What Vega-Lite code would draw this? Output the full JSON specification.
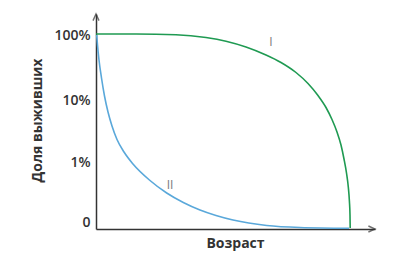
{
  "$schema": "https://vega.github.io/schema/vega-lite/v6.json",
  "width": 279,
  "height": 215,
  "autosize": "none",
  "padding": {"left": 96, "top": 14, "right": 36, "bottom": 28},
  "background": "white",
  "config": {"view": {"stroke": null}, "font": "Open Sans"},
  "datasets": {
    "curves": [
      {"series": "I", "age": 0, "share": 195},
      {"series": "I", "age": 40, "share": 195},
      {"series": "I", "age": 80, "share": 194.3},
      {"series": "I", "age": 110, "share": 191.5},
      {"series": "I", "age": 130, "share": 187.8},
      {"series": "I", "age": 150, "share": 182},
      {"series": "I", "age": 170, "share": 174},
      {"series": "I", "age": 185, "share": 166.5},
      {"series": "I", "age": 200, "share": 156.5},
      {"series": "I", "age": 212, "share": 145.5},
      {"series": "I", "age": 222, "share": 133.5},
      {"series": "I", "age": 230, "share": 121.5},
      {"series": "I", "age": 236, "share": 109.5},
      {"series": "I", "age": 241, "share": 97},
      {"series": "I", "age": 245, "share": 84},
      {"series": "I", "age": 248, "share": 70},
      {"series": "I", "age": 250.5, "share": 56},
      {"series": "I", "age": 252.3, "share": 42},
      {"series": "I", "age": 253.4, "share": 28},
      {"series": "I", "age": 254, "share": 14},
      {"series": "I", "age": 254.2, "share": 1},
      {"series": "II", "age": 0.7, "share": 194},
      {"series": "II", "age": 1.5, "share": 184},
      {"series": "II", "age": 3, "share": 169},
      {"series": "II", "age": 5.5, "share": 151},
      {"series": "II", "age": 8.5, "share": 133},
      {"series": "II", "age": 12, "share": 117},
      {"series": "II", "age": 16, "share": 103},
      {"series": "II", "age": 21, "share": 89.5},
      {"series": "II", "age": 28, "share": 77},
      {"series": "II", "age": 37, "share": 65},
      {"series": "II", "age": 54, "share": 48.5},
      {"series": "II", "age": 70.7, "share": 36},
      {"series": "II", "age": 87.3, "share": 26.5},
      {"series": "II", "age": 104, "share": 19},
      {"series": "II", "age": 120, "share": 13.5},
      {"series": "II", "age": 137, "share": 9},
      {"series": "II", "age": 170.7, "share": 3.5},
      {"series": "II", "age": 204, "share": 1.5},
      {"series": "II", "age": 253, "share": 0.7}
    ],
    "labels": [
      {"name": "I", "age": 175, "share": 187},
      {"name": "II", "age": 74, "share": 44}
    ],
    "arrows": [
      {"dir": "up", "age": 0, "share": 215},
      {"dir": "right", "age": 279, "share": 0}
    ]
  },
  "encoding": {
    "x": {"field": "age", "type": "quantitative",
      "scale": {"domain": [0, 279], "nice": false, "zero": false},
      "axis": {"title": "Возраст", "values": [], "ticks": false, "labels": false, "grid": false,
        "domainColor": "#333333", "domainWidth": 1.5,
        "titleFont": "Open Sans", "titleFontSize": 14, "titleFontWeight": "bold", "titleColor": "#333333",
        "titleX": 139, "titleY": 14, "titleBaseline": "middle", "titleAlign": "center"}},
    "y": {"field": "share", "type": "quantitative",
      "scale": {"domain": [0, 215], "nice": false, "zero": false},
      "axis": {"title": "Доля выживших", "values": [7, 67, 129, 194], "ticks": false, "grid": false,
        "labelExpr": "datum.value == 194 ? '100%' : datum.value == 129 ? '10%' : datum.value == 67 ? '1%' : '0'",
        "labelFont": "Open Sans", "labelFontSize": 14, "labelFontWeight": 600, "labelColor": "#333333", "labelPadding": 6,
        "domainColor": "#333333", "domainWidth": 1.5,
        "titleFont": "Open Sans", "titleFontSize": 14, "titleFontWeight": "bold", "titleColor": "#333333",
        "titleX": -59, "titleY": 106, "titleAngle": -90, "titleBaseline": "middle", "titleAlign": "center"}}
  },
  "layer": [
    {
      "data": {"name": "curves"},
      "mark": {"type": "line", "interpolate": "monotone", "strokeWidth": 1.6},
      "encoding": {
        "color": {"field": "series", "type": "nominal",
          "scale": {"domain": ["I", "II"], "range": ["#1f9a52", "#5aa8da"]}, "legend": null}
      }
    },
    {
      "data": {"name": "labels"},
      "mark": {"type": "text", "font": "Open Sans", "fontSize": 12, "color": "#7a7a7a", "baseline": "middle", "align": "center"},
      "encoding": {"text": {"field": "name", "type": "nominal"}}
    },
    {
      "data": {"name": "arrows"},
      "mark": {"type": "point", "filled": false, "strokeWidth": 1.4, "color": "#333333", "size": 36},
      "encoding": {
        "shape": {"field": "dir", "type": "nominal",
          "scale": {"domain": ["up", "right"], "range": ["M-1,2.2L0,0L1,2.2", "M-2.2,-1L0,0L-2.2,1"]}, "legend": null}
      }
    }
  ]
}
